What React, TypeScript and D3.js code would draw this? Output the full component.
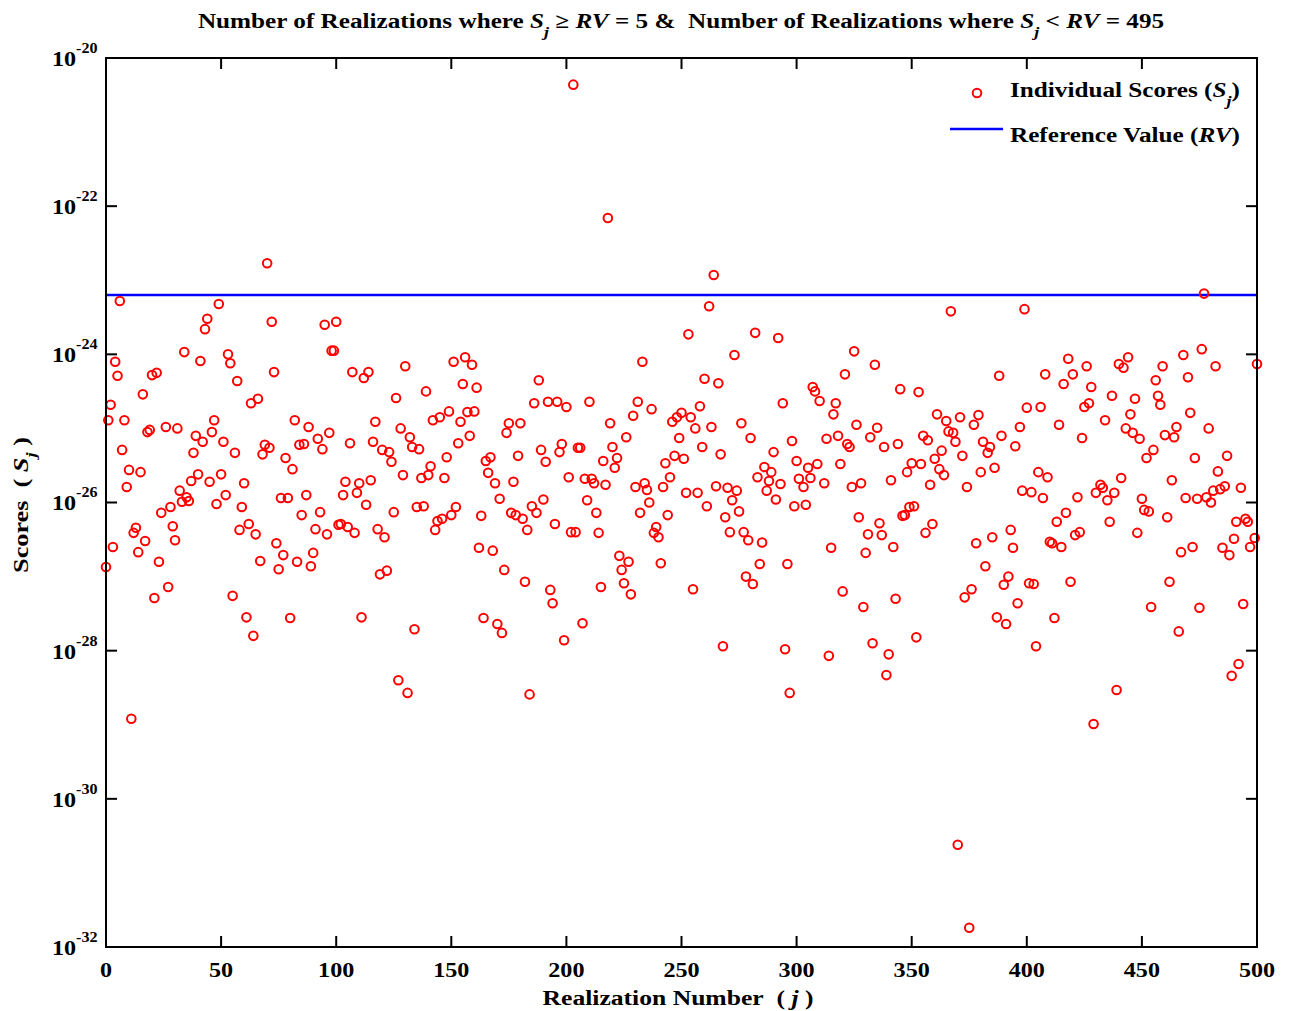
import React from "react";
import * as d3 from "d3";

// Realization numbers (j) and log10 of the individual scores S_j
const realizations = [
  0,1,2,3,4,5,6,7,8,9,10,11,12,13,14,15,16,17,18,19,20,21,22,23,24,26,27,28,29,30,31,32,33,34,35,36,37,38,39,40,41,42,43,44,45,46,47,48,49,50,
  51,52,53,54,55,56,57,58,59,60,61,62,63,64,65,66,67,68,69,70,71,72,73,74,75,76,77,78,79,80,81,82,83,84,85,86,87,88,89,90,91,92,93,94,95,96,97,98,99,100,
  101,102,103,104,105,106,107,108,109,110,111,112,113,114,115,116,117,118,119,120,121,122,123,124,125,126,127,128,129,130,131,132,133,134,135,136,137,138,139,140,
  141,142,143,144,145,146,147,148,149,150,151,152,153,154,155,156,157,158,159,160,161,162,163,164,165,166,167,168,169,170,171,172,173,174,175,176,177,178,179,180,
  181,182,183,184,185,186,187,188,189,190,191,192,193,194,195,196,197,198,199,200,201,202,203,204,205,206,207,208,209,210,211,212,213,214,215,216,217,218,219,220,
  221,222,223,224,225,226,227,228,229,230,231,232,233,234,235,236,237,238,239,240,241,242,243,244,245,246,247,248,249,250,251,252,253,254,255,256,257,258,259,260,
  261,262,263,264,265,266,267,268,269,270,271,272,273,274,275,276,277,278,279,280,281,282,283,284,285,286,287,288,289,290,291,292,293,294,295,296,297,298,299,300,
  301,303,304,305,306,307,308,309,310,312,313,314,315,316,317,318,319,320,321,322,323,324,325,326,327,328,329,330,331,332,333,334,335,336,337,338,339,340,341,342,
  343,344,345,346,347,348,349,350,351,352,353,354,355,356,357,358,359,360,361,362,363,364,365,366,367,368,369,370,371,372,373,374,375,376,377,378,379,380,381,382,
  383,384,385,386,387,388,389,390,391,392,393,394,395,396,397,398,399,400,401,402,403,404,405,406,407,408,409,410,411,412,413,414,415,416,417,418,419,420,421,422,
  423,424,425,426,427,428,429,430,432,433,434,435,436,437,438,439,440,441,442,443,444,445,446,447,448,449,450,451,452,453,454,455,456,457,458,459,460,461,462,463,
  464,465,466,467,468,469,470,471,472,473,474,475,476,477,478,479,480,481,482,483,484,485,486,487,488,489,490,491,492,493,494,495,496,497,499,500
];

const log10Scores = [
  -26.87,-24.89,-24.68,-26.6,-24.1,-24.29,-23.28,-25.29,-24.89,-25.79,-25.56,-28.92,-26.41,-26.34,-26.67,-25.59,-24.54,-26.52,-25.05,-25.02,-24.28,-27.29,-24.25,-26.8,-26.14,-24.98,-27.14,-26.06,-26.32,-26.51,-25.0,-25.84,-25.99,-23.97,-25.93,-25.98,-25.71,-25.33,-25.1,-25.62,-24.09,-25.18,-23.66,-23.52,-25.72,-25.05,-24.89,-26.02,-23.32,-25.62,
  -25.18,-25.9,-24.0,-24.12,-27.26,-25.33,-24.36,-26.37,-26.06,-25.74,-27.55,-26.29,-24.66,-27.8,-26.43,-24.6,-26.79,-25.35,-25.22,-22.77,-25.26,-23.56,-24.24,-26.55,-26.9,-25.94,-26.71,-25.4,-25.94,-27.56,-25.55,-24.89,-26.8,-25.22,-26.17,-25.21,-25.9,-24.98,-26.86,-26.68,-26.36,-25.14,-26.13,-25.28,-23.6,-26.43,-25.06,-23.95,-23.95,-23.56,
  -26.3,-26.29,-25.9,-25.72,-26.33,-25.2,-24.24,-26.41,-25.87,-25.74,-27.55,-24.32,-26.03,-24.24,-25.7,-25.18,-24.91,-26.36,-26.97,-25.29,-26.47,-26.92,-25.32,-25.45,-26.13,-24.59,-28.4,-25.0,-25.63,-24.16,-28.57,-25.12,-25.25,-27.71,-26.06,-25.28,-25.67,-26.05,-24.5,-25.63,
  -25.51,-24.89,-26.37,-26.25,-24.85,-26.22,-25.67,-25.39,-24.77,-26.17,-24.1,-26.06,-25.2,-24.91,-24.4,-24.04,-24.78,-25.1,-24.14,-24.77,-24.45,-26.61,-26.18,-27.56,-25.44,-25.6,-25.39,-26.65,-25.74,-27.64,-25.95,-27.76,-26.91,-25.06,-24.93,-26.14,-25.72,-26.17,-25.37,-24.93,
  -26.22,-27.07,-26.37,-28.59,-26.05,-24.66,-26.14,-24.35,-25.29,-25.96,-25.45,-24.64,-27.18,-27.36,-26.29,-24.64,-25.32,-25.21,-27.86,-24.71,-25.66,-26.4,-20.36,-26.4,-25.26,-25.26,-27.63,-25.68,-25.97,-24.64,-25.68,-25.74,-26.14,-26.41,-27.14,-25.44,-25.76,-22.16,-24.93,-25.25,
  -25.53,-25.4,-26.72,-26.91,-27.09,-25.12,-26.8,-27.24,-24.83,-25.79,-24.64,-26.14,-24.1,-25.74,-25.83,-26.0,-24.74,-26.41,-26.33,-26.47,-26.82,-25.79,-25.47,-26.17,-25.66,-24.91,-25.37,-24.85,-25.13,-24.79,-25.41,-25.87,-23.73,-24.85,-27.17,-25.0,-25.87,-24.7,-25.25,-24.33,
  -26.05,-23.35,-24.98,-22.93,-25.78,-24.39,-25.35,-27.94,-26.2,-25.8,-26.4,-25.97,-24.01,-25.84,-26.12,-24.93,-26.4,-27.0,-26.51,-25.13,-27.1,-23.71,-25.66,-26.83,-26.54,-25.52,-25.84,-25.71,-25.59,-25.32,-25.96,-23.78,-25.75,-24.66,-27.98,-26.83,-28.57,-25.17,-26.05,-25.44,
  -25.68,-25.79,-26.03,-25.53,-25.67,-24.44,-24.5,-25.48,-24.63,-25.74,-25.14,-28.07,-26.61,-24.81,-24.66,-25.1,-25.48,-27.2,-24.27,-25.21,-25.25,-25.79,-23.96,-24.95,-26.2,-25.74,-27.41,-26.68,-26.43,-25.12,-27.9,-24.14,-24.99,-26.28,-26.44,-25.25,-28.33,-28.05,-25.7,-26.6,-27.3,
  -25.21,-24.47,-26.18,-26.17,-25.59,-26.06,-25.47,-26.05,-27.82,-24.51,-25.48,-25.1,-26.41,-25.16,-25.76,-26.29,-25.41,-24.81,-25.55,-25.3,-25.63,-24.9,-25.04,-23.42,-25.06,-25.18,-30.62,-24.85,-25.37,-27.28,-25.79,-31.74,-27.17,-24.95,-26.55,-24.82,-25.59,-25.18,-26.86,-25.33,
  -25.25,-26.47,-25.53,-27.55,-24.29,-25.1,-27.11,-27.64,-27.0,-26.37,-26.61,-25.24,-27.36,-24.98,-25.84,-23.39,-24.72,-27.09,-25.86,-27.1,-27.94,-25.59,-24.71,-25.94,-24.27,-25.66,-26.53,-26.55,-27.56,-26.26,-24.95,-26.6,-24.4,-26.14,-24.06,-27.07,-24.27,-26.44,-25.93,-26.4,
  -25.13,-24.71,-24.16,-24.66,-24.44,-28.99,-25.87,-25.76,-25.8,-24.89,-25.97,-26.26,-24.56,-25.87,-28.53,-24.13,-25.67,-24.18,-25.0,-24.04,-24.81,-25.06,-24.6,-26.41,-25.14,-25.95,-26.1,-25.4,-26.12,-27.41,-25.29,-24.35,-24.56,-24.68,-24.16,-25.09,-26.2,-27.07,-25.7,-25.12,
  -24.98,-27.74,-26.67,-24.01,-25.94,-24.31,-24.79,-26.6,-25.4,-25.95,-27.42,-23.93,-23.18,-25.93,-25.0,-26.0,-25.84,-24.16,-25.58,-25.82,-26.61,-25.78,-25.37,-26.71,-28.34,-26.49,-26.26,-28.18,-25.8,-27.37,-26.22,-26.26,-26.6,-26.48,-24.13,-26.95
];

const referenceLog10 = -23.2;
const xTickValues = [0, 50, 100, 150, 200, 250, 300, 350, 400, 450, 500];
const yTickExponents = [-20, -22, -24, -26, -28, -30, -32];

const W = 1290;
const H = 1011;
const L = 106, R = 1257, T = 58, B = 947;
const FONT = "'Liberation Serif', 'Times New Roman', serif";
const NB = "\u00A0";

// horizontal stretch around an anchor point (reference glyphs are wider than Liberation Serif)
const stretch = (cx: number, cy: number, s: number) =>
  `translate(${cx},${cy}) scale(${s},1) translate(${-cx},${-cy})`;

export default function App() {
  const x = d3.scaleLinear().domain([0, 500]).range([L, R]);
  const y = d3.scaleLog().domain([1e-32, 1e-20]).range([B, T]);
  const points = realizations.map((j, i) => ({ j, s: Math.pow(10, log10Scores[i]) }));
  const rv = Math.pow(10, referenceLog10);
  const tickLen = 11;

  return (
    <svg width={W} height={H} style={{ position: "absolute", left: 0, top: 0, background: "#fff" }}
      fontFamily={FONT} fontWeight="bold">
      <rect x={0} y={0} width={W} height={H} fill="#fff" />
      {/* title */}
      <text x={681} y={28} textAnchor="middle" fontSize={21} transform={stretch(681, 28, 1.2)}>
        <tspan>{"Number of Realizations where "}</tspan>
        <tspan fontStyle="italic">S</tspan>
        <tspan fontStyle="italic" fontSize={15} dy={9}>j</tspan>
        <tspan dy={-9}>{" ≥ "}</tspan>
        <tspan fontStyle="italic">RV</tspan>
        <tspan>{" = 5 &" + NB + " Number of Realizations where "}</tspan>
        <tspan fontStyle="italic">S</tspan>
        <tspan fontStyle="italic" fontSize={15} dy={9}>j</tspan>
        <tspan dy={-9}>{" < "}</tspan>
        <tspan fontStyle="italic">RV</tspan>
        <tspan>{" = 495"}</tspan>
      </text>

      {/* reference line */}
      <line x1={L} x2={R} y1={y(rv)} y2={y(rv)} stroke="#0000ff" strokeWidth={2.5} />

      {/* points */}
      {points.map((p, i) => (
        <circle key={i} cx={x(p.j)} cy={y(p.s)} r={4.3} fill="none" stroke="#ff0000" strokeWidth={2} />
      ))}

      {/* frame */}
      <rect x={L} y={T} width={R - L} height={B - T} fill="none" stroke="#000" strokeWidth={2} />

      {/* x ticks */}
      {xTickValues.map((v) => (
        <g key={"x" + v}>
          <line x1={x(v)} x2={x(v)} y1={B} y2={B - tickLen} stroke="#000" strokeWidth={2} />
          <line x1={x(v)} x2={x(v)} y1={T} y2={T + tickLen} stroke="#000" strokeWidth={2} />
          <text x={x(v)} y={977} textAnchor="middle" fontSize={21} transform={stretch(x(v), 977, 1.15)}>{v}</text>
        </g>
      ))}

      {/* y ticks */}
      {yTickExponents.map((e) => {
        const yy = y(Math.pow(10, e));
        return (
          <g key={"y" + e}>
            <line x1={L} x2={L + tickLen} y1={yy} y2={yy} stroke="#000" strokeWidth={2} />
            <line x1={R} x2={R - tickLen} y1={yy} y2={yy} stroke="#000" strokeWidth={2} />
            <text x={52} y={yy + 8} fontSize={21} transform={stretch(52, yy, 1.15)}>
              10<tspan fontSize={14} dy={-13}>{e}</tspan>
            </text>
          </g>
        );
      })}

      {/* x label */}
      <text x={678} y={1005} textAnchor="middle" fontSize={21} transform={stretch(678, 1005, 1.22)}>
        <tspan>{"Realization Number" + NB + " ( "}</tspan>
        <tspan fontStyle="italic">j</tspan>
        <tspan>{" )"}</tspan>
      </text>

      {/* y label */}
      <text transform="translate(28,505) rotate(-90) scale(1.25,1)" textAnchor="middle" fontSize={21}>
        <tspan>{"Scores" + NB + " ( "}</tspan>
        <tspan fontStyle="italic">S</tspan>
        <tspan fontStyle="italic" fontSize={15} dy={8}>j</tspan>
        <tspan dy={-8}>{" )"}</tspan>
      </text>

      {/* legend */}
      <circle cx={977} cy={93} r={4.3} fill="none" stroke="#ff0000" strokeWidth={2} />
      <text x={1010} y={97} fontSize={21} transform={stretch(1010, 97, 1.2)}>
        <tspan>{"Individual Scores ("}</tspan>
        <tspan fontStyle="italic">S</tspan>
        <tspan fontStyle="italic" fontSize={15} dy={9}>j</tspan>
        <tspan dy={-9}>{")"}</tspan>
      </text>
      <line x1={950} x2={1003} y1={129} y2={129} stroke="#0000ff" strokeWidth={2.5} />
      <text x={1010} y={142} fontSize={21} transform={stretch(1010, 142, 1.2)}>
        <tspan>{"Reference Value ("}</tspan>
        <tspan fontStyle="italic">RV</tspan>
        <tspan>{")"}</tspan>
      </text>
    </svg>
  );
}
